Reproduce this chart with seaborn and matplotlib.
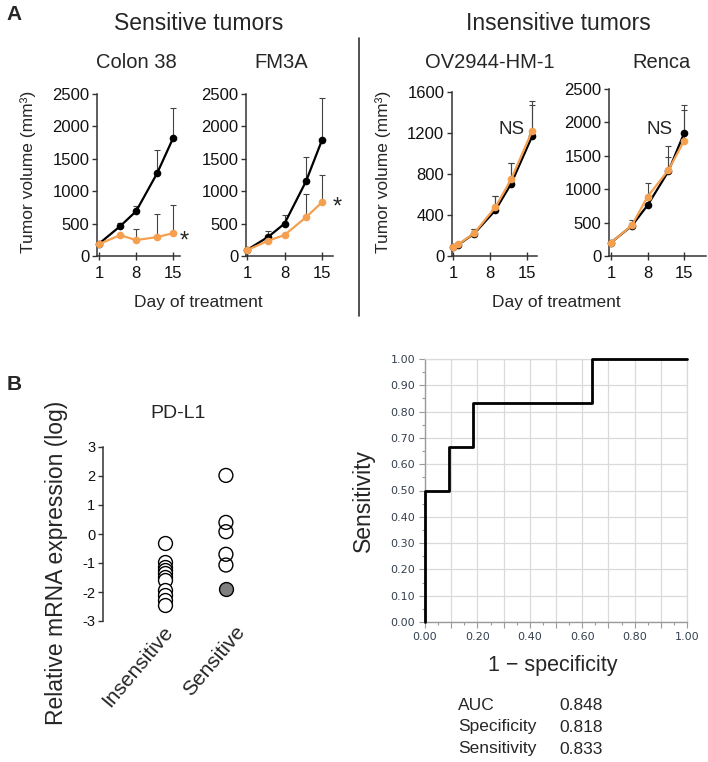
import matplotlib
matplotlib.use('Agg')
import matplotlib.pyplot as plt
import matplotlib.transforms as mtransforms
from matplotlib.lines import Line2D
import seaborn as sns
import numpy as np
import pandas as pd

# ---------------- Data: panel A (tumor growth) ----------------
days = [1, 5, 8, 12, 15]
days_ov = [1, 2, 5, 9, 12, 16]

colon_ctrl = [190, 460, 690, 1280, 1820]
colon_ctrl_err = [0, 55, 80, 360, 460]
colon_trt = [185, 322, 245, 293, 352]
colon_trt_err = [0, 0, 170, 357, 428]

fm3a_ctrl = [93, 298, 500, 1150, 1790]
fm3a_ctrl_err = [0, 93, 133, 383, 650]
fm3a_trt = [90, 237, 324, 597, 830]
fm3a_trt_err = [0, 0, 0, 355, 415]

ov_ctrl = [88, 110, 218, 445, 705, 1171]
ov_ctrl_err = [0, 0, 42, 140, 205, 302]
ov_trt = [92, 114, 222, 475, 748, 1223]
ov_trt_err = [0, 0, 38, 112, 162, 292]

renca_ctrl = [200, 453, 759, 1268, 1837]
renca_ctrl_err = [0, 86, 100, 220, 423]
renca_trt = [200, 459, 888, 1287, 1722]
renca_trt_err = [0, 40, 200, 365, 464]

# ---------------- Data: panel B ----------------
groups = ['Insensitive', 'Sensitive']
insensitive_vals = [-0.31, -0.97, -1.14, -1.24, -1.34, -1.48, -1.59, -1.93, -2.10, -2.28, -2.45]
sensitive_open_vals = [2.02, 0.40, 0.08, -0.70, -1.07]
sensitive_filled_vals = [-1.90]

roc_fpr = [0.0, 0.0, 0.0909, 0.0909, 0.182, 0.182, 0.636, 0.636, 1.0]
roc_tpr = [0.0, 0.5, 0.5, 0.667, 0.667, 0.833, 0.833, 1.0, 1.0]

stat_names = ['AUC', 'Specificity', 'Sensitivity']
stat_values = ['0.848', '0.818', '0.833']

# ---------------- Style ----------------
sns.set_style('ticks')
plt.rcParams['font.family'] = ['Liberation Sans', 'DejaVu Sans']
plt.rcParams['axes.unicode_minus'] = False

W, H = 708, 762
fig = plt.figure(figsize=(W / 100, H / 100), dpi=100)
fig.patch.set_facecolor('white')

BLACK = '#000000'
ORANGE = '#F5A050'
ERRC = '#444444'


def rect(l, t, r, b):
    return [l / W, 1 - b / H, (r - l) / W, (b - t) / H]


def ftext(x, y, s, **kw):
    kw.setdefault('va', 'center')
    kw.setdefault('ha', 'center')
    fig.text(x / W, 1 - y / H, s, **kw)


# ---------------- Panel A ----------------
panels = [
    dict(title='Colon 38', box=(97, 94, 180, 256), x=days, c=colon_ctrl, ce=colon_ctrl_err,
         t=colon_trt, te=colon_trt_err, xlim=(0.62, 16.3), ylim=(0, 2500),
         yticks=[0, 500, 1000, 1500, 2000, 2500], tx=136, mark='*', mxy=(17.1, 216)),
    dict(title='FM3A', box=(246, 94, 333, 256), x=days, c=fm3a_ctrl, ce=fm3a_ctrl_err,
         t=fm3a_trt, te=fm3a_trt_err, xlim=(0.81, 17.05), ylim=(0, 2500),
         yticks=[0, 500, 1000, 1500, 2000, 2500], tx=281, mark='*', mxy=(17.8, 741)),
    dict(title='OV2944-HM-1', box=(452, 92, 537, 256), x=days_ov, c=ov_ctrl, ce=ov_ctrl_err,
         t=ov_trt, te=ov_trt_err, xlim=(0.81, 16.9), ylim=(0, 1600),
         yticks=[0, 400, 800, 1200, 1600], tx=490, mark='NS', mxy=(12.0, 1239)),
    dict(title='Renca', box=(609, 89, 706, 256), x=days, c=renca_ctrl, ce=renca_ctrl_err,
         t=renca_trt, te=renca_trt_err, xlim=(0.62, 19.2), ylim=(0, 2500),
         yticks=[0, 500, 1000, 1500, 2000, 2500], tx=661, mark='NS', mxy=(10.4, 1901)),
]

for p in panels:
    ax = fig.add_axes(rect(*p['box']))
    for vals, errs, col in [(p['c'], p['ce'], BLACK), (p['t'], p['te'], ORANGE)]:
        xs = np.array(p['x'], dtype=float)
        vs = np.array(vals, dtype=float)
        es = np.array(errs, dtype=float)
        m = es > 0
        ax.errorbar(xs[m], vs[m], yerr=[np.zeros(m.sum()), es[m]], fmt='none',
                    ecolor=ERRC, elinewidth=0.8, capsize=2.5, capthick=0.8, zorder=1)
    sns.lineplot(x=p['x'], y=p['c'], ax=ax, color=BLACK, marker='o', markersize=5.5,
                 markeredgewidth=0, linewidth=1.6, zorder=3, clip_on=False)
    sns.lineplot(x=p['x'], y=p['t'], ax=ax, color=ORANGE, marker='o', markersize=5.5,
                 markeredgewidth=0, linewidth=1.6, zorder=4, clip_on=False)
    ax.set_xlim(*p['xlim'])
    ax.set_ylim(*p['ylim'])
    ax.set_xticks([1, 8, 15])
    ax.set_yticks(p['yticks'])
    ax.set_xlabel('')
    ax.set_ylabel('')
    ax.patch.set_alpha(0)
    for s in ['top', 'right']:
        ax.spines[s].set_visible(False)
    for s in ['left', 'bottom']:
        ax.spines[s].set_color('#333333')
        ax.spines[s].set_linewidth(1.1)
    ax.tick_params(axis='y', direction='out', length=3.5, width=1, color='#333333',
                   labelsize=12, pad=2, labelcolor='#111111')
    ax.tick_params(axis='x', direction='inout', length=6, width=1, color='#333333',
                   labelsize=12, pad=4, labelcolor='#111111')
    fs = 17 if p['mark'] == '*' else 13.5
    ax.text(p['mxy'][0], p['mxy'][1], p['mark'], ha='center', va='center',
            fontsize=fs, clip_on=False)
    ftext(p['tx'], 62, p['title'], fontsize=14.5)

ftext(14, 15, 'A', fontsize=15, fontweight='bold')
ftext(199, 23, 'Sensitive tumors', fontsize=16.5)
ftext(558, 23, 'Insensitive tumors', fontsize=16.5)
ftext(28, 172, 'Tumor volume (mm³)', fontsize=12.5, rotation=90)
ftext(383, 172, 'Tumor volume (mm³)', fontsize=12.5, rotation=90)
ftext(198, 303, 'Day of treatment', fontsize=12.5)
ftext(556, 303, 'Day of treatment', fontsize=12.5)
fig.add_artist(Line2D([359 / W, 359 / W], [1 - 38 / H, 1 - 316 / H], color='#333333', lw=1.2))

# ---------------- Panel B: dot plot ----------------
ftext(14, 384, 'B', fontsize=15, fontweight='bold')
axd = fig.add_axes(rect(103, 447, 260, 621))
df_open = pd.DataFrame({
    'group': ['Insensitive'] * len(insensitive_vals) + ['Sensitive'] * len(sensitive_open_vals),
    'value': insensitive_vals + sensitive_open_vals,
})
df_fill = pd.DataFrame({'group': ['Sensitive'] * len(sensitive_filled_vals),
                        'value': sensitive_filled_vals})
sns.stripplot(data=df_open, x='group', y='value', order=groups, jitter=False, color='white',
              edgecolor='black', linewidth=1.0, size=10, ax=axd, zorder=3)
axd.collections[-1].set_facecolor('none')
sns.stripplot(data=df_fill, x='group', y='value', order=groups, jitter=False, color='#7F7F7F',
              edgecolor='black', linewidth=1.0, size=10, ax=axd, zorder=3)
axd.set_xlim(-1.02, 1.56)
axd.set_ylim(-3, 3)
axd.set_yticks([-3, -2, -1, 0, 1, 2, 3])
axd.set_xlabel('')
axd.set_ylabel('')
axd.patch.set_alpha(0)
for s in ['top', 'right', 'bottom']:
    axd.spines[s].set_visible(False)
axd.spines['left'].set_color('#333333')
axd.spines['left'].set_linewidth(1.1)
axd.tick_params(axis='y', direction='out', length=3.5, width=1, color='#333333',
                labelsize=10.5, pad=2, labelcolor='#111111')
axd.tick_params(axis='x', length=0, labelsize=15, pad=1)
axd.set_xticks([0, 1])
axd.set_xticklabels(groups, rotation=50, ha='right', va='top', rotation_mode='anchor')
for lab, dx in zip(axd.get_xticklabels(), [-3, 8]):
    lab.set_transform(lab.get_transform() + mtransforms.ScaledTranslation(dx / 100, 0, fig.dpi_scale_trans))
ftext(178, 413, 'PD-L1', fontsize=14)
ftext(57, 563, 'Relative mRNA expression (log)', fontsize=16.5, rotation=90)

# ---------------- Panel B: ROC ----------------
axr = fig.add_axes(rect(425, 359, 687, 622))
sns.lineplot(x=roc_fpr, y=roc_tpr, ax=axr, sort=False, estimator=None, color='black',
             linewidth=2.0, zorder=5, clip_on=False)
axr.set_xlim(0, 1)
axr.set_ylim(0, 1)
ticks01 = [i / 10 for i in range(11)]
axr.set_xticks(ticks01)
axr.set_xticklabels([f'{t:.2f}' if i % 2 == 0 else '' for i, t in enumerate(ticks01)])
axr.set_yticks(ticks01)
axr.set_yticklabels([f'{t:.2f}' for t in ticks01])
axr.set_xticks([i / 20 for i in range(1, 20, 2)], minor=True)
axr.set_yticks([i / 20 for i in range(1, 20, 2)], minor=True)
axr.grid(True, which='major', color='#DADADA', linewidth=0.9)
axr.set_axisbelow(True)
for s in ['top', 'right']:
    axr.spines[s].set_color('#DADADA')
    axr.spines[s].set_linewidth(0.9)
for s in ['left', 'bottom']:
    axr.spines[s].set_color('#9A9A9A')
    axr.spines[s].set_linewidth(1.0)
axr.tick_params(which='major', direction='out', length=4, width=0.8, color='#9A9A9A',
                labelsize=8, labelcolor='#34404F', pad=3)
axr.tick_params(which='minor', direction='out', length=2.5, width=0.8, color='#9A9A9A')
for lab in axr.get_xticklabels() + axr.get_yticklabels():
    lab.set_fontfamily('DejaVu Sans')
axr.set_xlabel('')
axr.set_ylabel('')
ftext(553, 665, '1 − specificity', fontsize=15.5)
ftext(363, 500, 'Sensitivity', fontsize=16.5, rotation=90)
for name, val, y in zip(stat_names, stat_values, [705, 727, 749]):
    ftext(458, y, name, fontsize=12.5, ha='left')
    ftext(559, y, val, fontsize=12.5, ha='left')

fig.savefig('out.png', dpi=100, facecolor='white')
